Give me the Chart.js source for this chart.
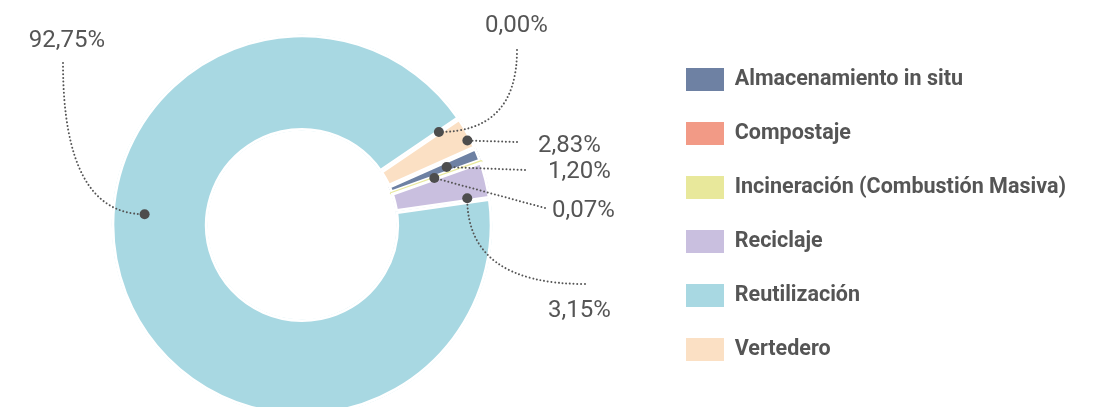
<!DOCTYPE html>
<html>
<head>
<meta charset="utf-8">
<script src="https://cdn.jsdelivr.net/npm/chart.js@4.4.1/dist/chart.umd.min.js"></script>
<style>
  html, body { margin: 0; padding: 0; background: #fff; overflow: hidden; }
  #wrap { position: relative; width: 1107px; height: 450px; }
</style>
</head>
<body>
<div id="wrap"><canvas id="destinoChart"></canvas></div>
<script>
// categorías en el orden en que se dibujan las porciones (sentido horario)
const categorias = [
  'Almacenamiento in situ',
  'Incineración (Combustión Masiva)',
  'Reciclaje',
  'Reutilización',
  'Compostaje',
  'Vertedero'
];
const porcentajes = [1.20, 0.07, 3.15, 92.75, 0.00, 2.83];
const colores = ['#6e81a3', '#e8e89b', '#c9bfdf', '#a8d8e2', '#f29a86', '#fbe0c4'];

const TEXTO = '#555555';
const PUNTO = '#4d4d4d';
const LEYENDA_X = 655; // borde izquierdo del bloque de leyenda

// posición de cada etiqueta respecto al centro del anillo
// dot: fracción del ángulo de la porción (f) y del grosor del anillo (r)
const etiquetas = {
  'Reutilización':  { tx: -235, ty: -178, align: 'center', line: { x: -239, y: -162 }, curve: 'down', dot: { f: 0.575, r: 0.66 } },
  'Compostaje':     { tx: 214.5, ty: -193, align: 'center', line: { x: 215, y: -175 }, curve: 'down', dot: { f: 0, r: 0.74 } },
  'Vertedero':      { tx: 236, ty: -73, align: 'left', line: { x: 215, y: -83 }, dot: { f: 0.7, r: 0.95 } },
  'Almacenamiento in situ': { tx: 246, ty: -47, align: 'left', line: { x: 223, y: -55 }, dot: { f: 0.5, r: 0.64 } },
  'Incineración (Combustión Masiva)': { tx: 250, ty: -8, align: 'left', line: { x: 243, y: -17 }, dot: { f: 0.5, r: 0.48 } },
  'Reciclaje':      { tx: 246, ty: 92, align: 'left', line: { x: 283, y: 59 }, curve: 'side', dot: { f: 0.9, r: 0.76 } }
};

const formato = v => v.toFixed(2).replace('.', ',') + '%';

// coloca la leyenda en su columna sin mover el anillo
const leyendaPlugin = {
  id: 'leyendaColumna',
  afterLayout(chart) {
    const lg = chart.legend;
    lg.left = LEYENDA_X;
    lg.right = chart.width;
    lg.width = lg.right - lg.left;
  }
};

// puntos, líneas punteadas y porcentajes
const etiquetasPlugin = {
  id: 'etiquetasPorcentaje',
  afterDatasetsDraw(chart) {
    const ctx = chart.ctx;
    const meta = chart.getDatasetMeta(0);
    meta.data.forEach((arc, i) => {
      const cfg = etiquetas[categorias[i]];
      if (!cfg) return;
      const p = arc.getProps(['x', 'y', 'startAngle', 'endAngle', 'innerRadius', 'outerRadius'], true);
      const ang = p.startAngle + cfg.dot.f * (p.endAngle - p.startAngle);
      const rad = p.innerRadius + cfg.dot.r * (p.outerRadius - p.innerRadius);
      const dx = p.x + Math.cos(ang) * rad;
      const dy = p.y + Math.sin(ang) * rad;
      const lx = p.x + cfg.line.x;
      const ly = p.y + cfg.line.y;

      ctx.save();
      ctx.strokeStyle = TEXTO;
      ctx.lineWidth = 2;
      ctx.lineCap = 'round';
      ctx.setLineDash([0.01, 3.7]);
      ctx.beginPath();
      ctx.moveTo(lx, ly);
      if (cfg.curve === 'down') {
        ctx.quadraticCurveTo(lx, dy, dx, dy);
      } else if (cfg.curve === 'side') {
        ctx.quadraticCurveTo(dx, ly, dx, dy);
      } else {
        ctx.lineTo(dx, dy);
      }
      ctx.stroke();
      ctx.setLineDash([]);

      ctx.fillStyle = PUNTO;
      ctx.beginPath();
      ctx.arc(dx, dy, 5, 0, Math.PI * 2);
      ctx.fill();

      ctx.font = '24px Roboto';
      ctx.fillStyle = TEXTO;
      ctx.textAlign = cfg.align;
      ctx.textBaseline = 'alphabetic';
      ctx.fillText(formato(porcentajes[i]), p.x + cfg.tx, p.y + cfg.ty);
      ctx.restore();
    });
  }
};

const ctxDona = document.getElementById('destinoChart').getContext('2d');
const donaChart = new Chart(ctxDona, {
  type: 'doughnut',
  data: {
    labels: categorias,
    datasets: [{
      data: porcentajes,
      backgroundColor: colores,
      // las porciones casi nulas se dibujan con un contorno de su propio color
      borderColor: c => (c.raw > 0 && c.raw < 0.5) ? colores[c.dataIndex] : '#ffffff',
      borderWidth: c => (c.raw > 0 && c.raw < 0.5) ? 2 : 2.5,
      borderAlign: c => (c.raw > 0 && c.raw < 0.5) ? 'center' : 'inner',
      radius: 190.5,
      cutout: 92.5,
      rotation: 66
    }]
  },
  options: {
    responsive: true,
    maintainAspectRatio: false,
    animation: false,
    events: [],
    layout: { padding: { top: 37, bottom: 37, left: 0, right: 111 } },
    plugins: {
      tooltip: { enabled: false },
      legend: {
        position: 'right',
        align: 'start',
        maxWidth: 392,
        labels: {
          boxWidth: 38,
          boxHeight: 23,
          padding: 31,
          color: TEXTO,
          font: { family: 'Roboto', size: 21.5, weight: 'bold' },
          sort: (a, b) => a.text.localeCompare(b.text, 'es'),
          generateLabels: chart =>
            Chart.overrides.doughnut.plugins.legend.labels.generateLabels(chart)
              .map(l => Object.assign(l, { lineWidth: 0, strokeStyle: 'rgba(0,0,0,0)' }))
        }
      }
    }
  },
  plugins: [leyendaPlugin, etiquetasPlugin]
});
</script>
</body>
</html>
